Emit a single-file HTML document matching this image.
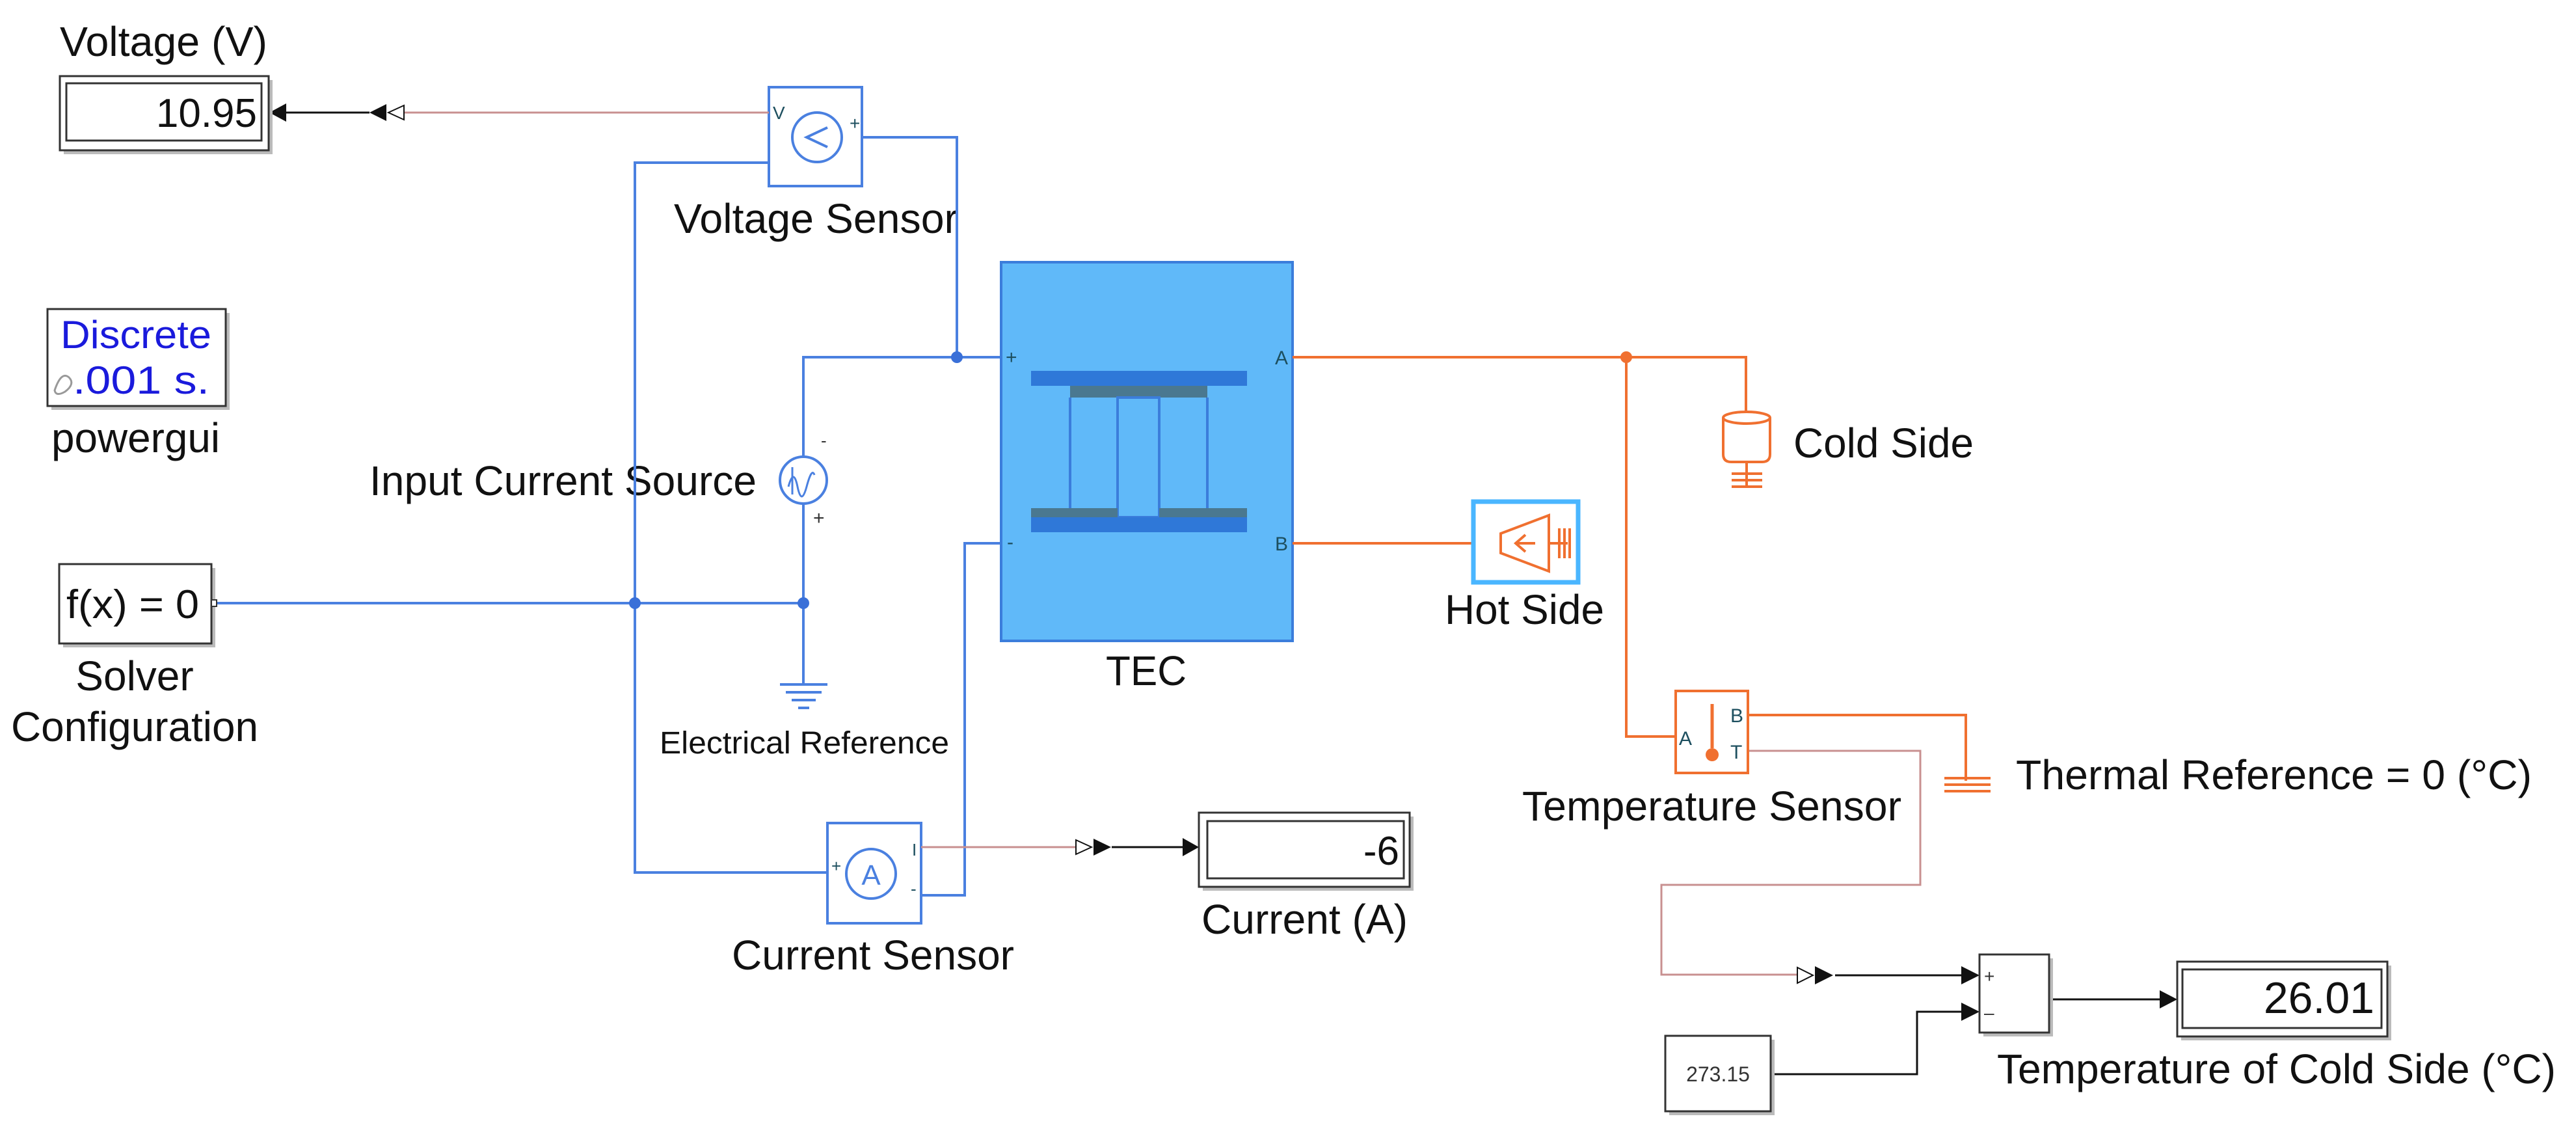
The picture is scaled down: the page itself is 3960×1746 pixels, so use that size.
<!DOCTYPE html>
<html><head><meta charset="utf-8"><style>
html,body{margin:0;padding:0;background:#fff;}
svg{display:block;}
text{font-family:"Liberation Sans",Arial,sans-serif;}
</style></head><body>
<svg width="3960" height="1746" viewBox="0 0 3960 1746" xmlns="http://www.w3.org/2000/svg">
<rect width="3960" height="1746" fill="#fff"/>

<!-- ============ Labels ============ -->
<g font-size="64" fill="#111">
<text x="92" y="86" textLength="319" lengthAdjust="spacingAndGlyphs">Voltage (V)</text>
<text x="1036" y="358" textLength="437" lengthAdjust="spacingAndGlyphs">Voltage Sensor</text>
<text x="79" y="695" textLength="259" lengthAdjust="spacingAndGlyphs">powergui</text>
<text x="568" y="761" textLength="595" lengthAdjust="spacingAndGlyphs">Input Current Source</text>
<text x="207" y="1061" text-anchor="middle">Solver</text>
<text x="17" y="1139" textLength="380" lengthAdjust="spacingAndGlyphs">Configuration</text>
<text x="1700" y="1053" textLength="124" lengthAdjust="spacingAndGlyphs">TEC</text>
<text x="1125" y="1490" textLength="434" lengthAdjust="spacingAndGlyphs">Current Sensor</text>
<text x="1847" y="1435" textLength="317" lengthAdjust="spacingAndGlyphs">Current (A)</text>
<text x="2757" y="703" textLength="277" lengthAdjust="spacingAndGlyphs">Cold Side</text>
<text x="2221" y="959" textLength="245" lengthAdjust="spacingAndGlyphs">Hot Side</text>
<text x="2340" y="1261" textLength="583" lengthAdjust="spacingAndGlyphs">Temperature Sensor</text>
<text x="3099" y="1213" textLength="793" lengthAdjust="spacingAndGlyphs">Thermal Reference = 0 (°C)</text>
<text x="3070" y="1665" textLength="859" lengthAdjust="spacingAndGlyphs">Temperature of Cold Side (°C)</text>
</g>
<text x="1014" y="1158" font-size="48" fill="#111" textLength="445" lengthAdjust="spacingAndGlyphs">Electrical Reference</text>

<!-- ============ Blue wires ============ -->
<g stroke="#4a80e0" stroke-width="4" fill="none">
<polyline points="1325,211 1471,211 1471,549 1539,549"/>
<polyline points="1235,705 1235,549 1471,549"/>
<polyline points="1235,771 1235,1052"/>
<polyline points="1192,224 1192,250 976,250 976,1341 1272,1341"/>
<polyline points="1182,224 1192,224"/>
<polyline points="329,927 1235,927"/>
<polyline points="1539,835 1483,835 1483,1376 1416,1376"/>
<polyline points="1416,1376 1404,1376 1404,1355"/>
</g>
<g fill="#3a70d8">
<circle cx="976" cy="927" r="9"/><circle cx="1235" cy="927" r="9"/><circle cx="1471" cy="549" r="9"/>
</g>
<!-- ground -->
<g stroke="#4a80e0" stroke-width="4">
<line x1="1199" y1="1052" x2="1272" y2="1052"/>
<line x1="1208" y1="1064" x2="1263" y2="1064"/>
<line x1="1217" y1="1076" x2="1254" y2="1076"/>
<line x1="1227" y1="1088" x2="1244" y2="1088"/>
</g>
<!-- current source -->
<circle cx="1235" cy="738" r="36" fill="#fff" stroke="#4a80e0" stroke-width="4"/>
<path d="M1212,748 q8,-30 14,0 t14,0 t12,-18" stroke="#4a80e0" stroke-width="3" fill="none"/>
<line x1="1218" y1="760" x2="1218" y2="718" stroke="#4a80e0" stroke-width="3"/>
<text x="1262" y="686" font-size="26" fill="#333">-</text>
<text x="1250" y="806" font-size="30" fill="#333">+</text>

<!-- ============ Voltage sensor ============ -->
<rect x="1182" y="134" width="143" height="152" fill="#fff" stroke="#4a80e0" stroke-width="4"/>
<circle cx="1256" cy="211" r="38" fill="#fff" stroke="#4a80e0" stroke-width="4"/>
<polyline points="1272,196 1240,211 1272,226" fill="none" stroke="#4a80e0" stroke-width="4"/>
<text x="1188" y="183" font-size="28" fill="#1d4f5f">V</text>
<text x="1306" y="199" font-size="28" fill="#1d4f5f">+</text>
<!-- Current sensor -->
<rect x="1272" y="1265" width="144" height="154" fill="#fff" stroke="#4a80e0" stroke-width="4"/>
<circle cx="1339" cy="1343" r="38" fill="#fff" stroke="#4a80e0" stroke-width="4"/>
<text x="1339" y="1360" font-size="44" fill="#4a80e0" text-anchor="middle">A</text>
<text x="1278" y="1340" font-size="26" fill="#1d4f5f">+</text>
<text x="1402" y="1315" font-size="26" fill="#1d4f5f">I</text>
<text x="1400" y="1375" font-size="26" fill="#1d4f5f">-</text>

<!-- ============ Signals ============ -->
<g stroke="#c89090" stroke-width="3" fill="none">
<line x1="1182" y1="173" x2="621" y2="173"/>
<line x1="1416" y1="1302" x2="1654" y2="1302"/>
<polyline points="2687,1154 2952,1154 2952,1360 2554,1360 2554,1498 2763,1498"/>
</g>
<g stroke="#111" stroke-width="3" fill="none">
<line x1="568" y1="173" x2="440" y2="173"/>
<line x1="1709" y1="1302" x2="1818" y2="1302"/>
<line x1="2821" y1="1499" x2="3015" y2="1499"/>
<line x1="3150" y1="1536" x2="3325" y2="1536"/>
<polyline points="2722,1651 2947,1651 2947,1555 3015,1555"/>
</g>
<!-- arrowheads -->
<polygon points="621,162 621,184 597,173" fill="#fff" stroke="#111" stroke-width="2"/>
<polygon points="594,160 594,186 568,173" fill="#111"/>
<polygon points="440,159 440,187 414,173" fill="#111"/>
<polygon points="1654,1291 1654,1313 1678,1302" fill="#fff" stroke="#111" stroke-width="2"/>
<polygon points="1681,1289 1681,1315 1708,1302" fill="#111"/>
<polygon points="1818,1288 1818,1316 1843,1302" fill="#111"/>
<polygon points="2763,1487 2763,1511 2787,1499" fill="#fff" stroke="#111" stroke-width="2"/>
<polygon points="2790,1485 2790,1513 2818,1499" fill="#111"/>
<polygon points="3015,1485 3015,1513 3043,1499" fill="#111"/>
<polygon points="3015,1541 3015,1569 3043,1555" fill="#111"/>
<polygon points="3320,1522 3320,1550 3347,1536" fill="#111"/>

<!-- ============ Displays ============ -->
<g fill="#bbb">
<rect x="98" y="123" width="321" height="114"/>
<rect x="1849" y="1255" width="324" height="114"/>
<rect x="3353" y="1484" width="323" height="115"/>
<rect x="79" y="481" width="274" height="149"/>
<rect x="97" y="873" width="234" height="122"/>
<rect x="3049" y="1473" width="107" height="120"/>
<rect x="2566" y="1598" width="162" height="116"/>
</g>
<rect x="92" y="117" width="321" height="114" fill="#fff" stroke="#333" stroke-width="3"/>
<rect x="102" y="128" width="300" height="88" fill="#fff" stroke="#333" stroke-width="3"/>
<text x="395" y="195" font-size="62" fill="#111" text-anchor="end">10.95</text>
<rect x="1843" y="1249" width="324" height="114" fill="#fff" stroke="#333" stroke-width="3"/>
<rect x="1856" y="1262" width="302" height="88" fill="#fff" stroke="#333" stroke-width="3"/>
<text x="2151" y="1329" font-size="62" fill="#111" text-anchor="end">-6</text>
<rect x="3347" y="1478" width="323" height="115" fill="#fff" stroke="#333" stroke-width="3"/>
<rect x="3355" y="1490" width="306" height="90" fill="#fff" stroke="#333" stroke-width="3"/>
<text x="3650" y="1557" font-size="68" fill="#111" text-anchor="end">26.01</text>

<!-- sum -->
<rect x="3043" y="1467" width="107" height="120" fill="#fff" stroke="#333" stroke-width="3"/>
<text x="3050" y="1510" font-size="28" fill="#333">+</text>
<text x="3050" y="1566" font-size="28" fill="#333">–</text>
<!-- constant -->
<rect x="2560" y="1592" width="162" height="116" fill="#fff" stroke="#333" stroke-width="3"/>
<text x="2641" y="1662" font-size="32" fill="#333" text-anchor="middle">273.15</text>

<!-- powergui -->
<rect x="73" y="475" width="274" height="149" fill="#fff" stroke="#333" stroke-width="3"/>
<text x="93" y="535" font-size="60" fill="#1a1adc" textLength="232" lengthAdjust="spacingAndGlyphs">Discrete</text>
<text x="112" y="605" font-size="60" fill="#1a1adc" textLength="210" lengthAdjust="spacingAndGlyphs">.001 s.</text>
<path d="M84,600 q10,-30 22,-20 q10,10 -6,22 q-14,8 -16,-2z" fill="none" stroke="#999" stroke-width="3"/>
<!-- solver -->
<rect x="91" y="867" width="234" height="122" fill="#fff" stroke="#333" stroke-width="3"/>
<text x="102" y="950" font-size="62" fill="#111" textLength="204" lengthAdjust="spacingAndGlyphs">f(x) = 0</text>
<rect x="325" y="922" width="8" height="10" fill="#fff" stroke="#333" stroke-width="2"/>

<!-- ============ TEC ============ -->
<rect x="1539" y="403" width="448" height="582" fill="#60b9f9" stroke="#3b7ddb" stroke-width="4"/>
<rect x="1585" y="570" width="332" height="23" fill="#2f78d8"/>
<rect x="1645" y="593" width="211" height="18" fill="#4a7890"/>
<g fill="none" stroke="#3b7ddb" stroke-width="4">
<line x1="1645" y1="611" x2="1645" y2="781"/>
<line x1="1856" y1="611" x2="1856" y2="781"/>
<rect x="1718" y="611" width="64" height="184"/>
</g>
<rect x="1585" y="781" width="133" height="14" fill="#4a7890"/>
<rect x="1782" y="781" width="135" height="14" fill="#4a7890"/>
<rect x="1585" y="795" width="332" height="23" fill="#2f78d8"/>
<g font-size="30" fill="#1d4f5f">
<text x="1546" y="559">+</text>
<text x="1548" y="843">-</text>
<text x="1960" y="560">A</text>
<text x="1960" y="846">B</text>
</g>

<!-- ============ Orange thermal ============ -->
<g stroke="#f07030" stroke-width="4" fill="none">
<polyline points="1987,549 2684,549 2684,635"/>
<polyline points="2500,549 2500,1132 2576,1132"/>
<line x1="1987" y1="835" x2="2307" y2="835"/>
<polyline points="2687,1099 3022,1099 3022,1200"/>
</g>
<circle cx="2500" cy="549" r="9" fill="#f07030"/>
<!-- cold side mass -->
<g stroke="#f07030" stroke-width="4" fill="#fff">
<path d="M2649,642 L2649,698 Q2649,710 2661,710 L2709,710 Q2721,710 2721,698 L2721,642"/>
<ellipse cx="2685" cy="642" rx="36" ry="9"/>
<line x1="2685" y1="710" x2="2685" y2="748" fill="none"/>
<line x1="2662" y1="728" x2="2709" y2="728"/>
<line x1="2662" y1="738" x2="2709" y2="738"/>
<line x1="2662" y1="748" x2="2709" y2="748"/>
</g>
<!-- hot side -->
<rect x="2265" y="771" width="161" height="124" fill="#fff" stroke="#4ab6ff" stroke-width="7"/>
<g stroke="#f07030" stroke-width="4" fill="none">
<polygon points="2307,820 2381,792 2381,878 2307,850"/>
<polyline points="2345,822 2330,835 2345,848"/>
<line x1="2330" y1="835" x2="2360" y2="835"/>
<line x1="2381" y1="835" x2="2410" y2="835"/>
<line x1="2397" y1="812" x2="2397" y2="858"/>
<line x1="2405" y1="812" x2="2405" y2="858"/>
<line x1="2413" y1="812" x2="2413" y2="858"/>
</g>
<!-- temperature sensor -->
<rect x="2576" y="1062" width="111" height="126" fill="#fff" stroke="#f07030" stroke-width="4"/>
<line x1="2632" y1="1082" x2="2632" y2="1150" stroke="#f07030" stroke-width="5"/>
<circle cx="2632" cy="1160" r="10" fill="#f07030"/>
<g font-size="30" fill="#1d4f5f">
<text x="2581" y="1145">A</text>
<text x="2660" y="1110">B</text>
<text x="2660" y="1166">T</text>
</g>
<!-- thermal ref -->
<g stroke="#f07030" stroke-width="4">
<line x1="2989" y1="1196" x2="3060" y2="1196"/>
<line x1="2989" y1="1206" x2="3060" y2="1206"/>
<line x1="2989" y1="1216" x2="3060" y2="1216"/>
</g>
</svg>
</body></html>
